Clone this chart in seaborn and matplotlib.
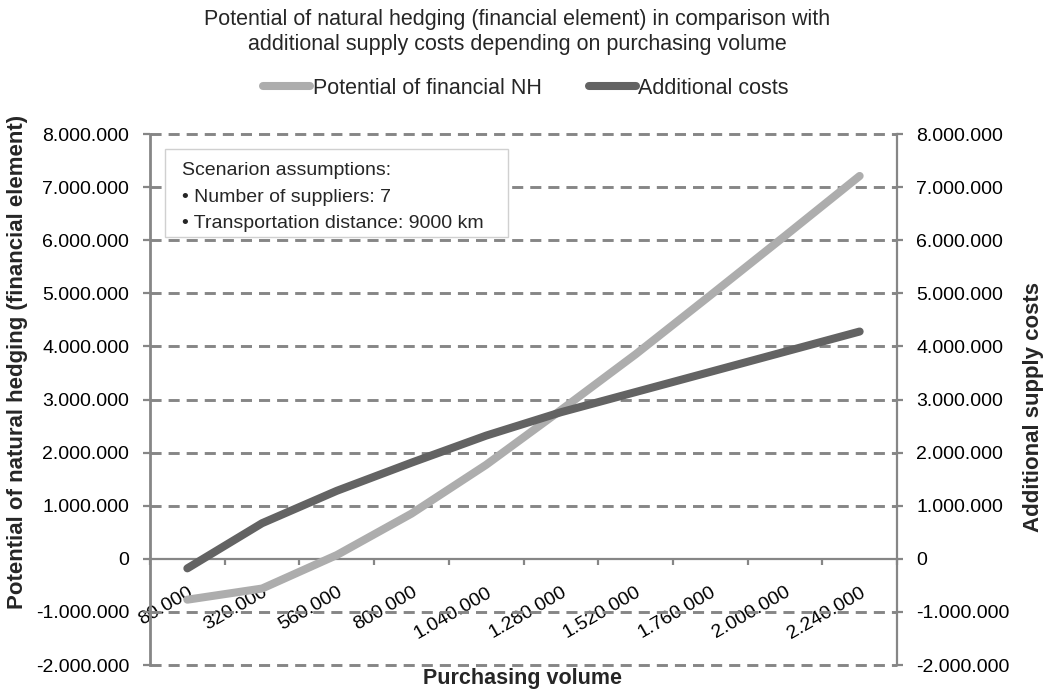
import matplotlib
matplotlib.use("Agg")
import matplotlib.pyplot as plt
from matplotlib.ticker import FuncFormatter, FixedLocator
from matplotlib.patches import Rectangle
import seaborn as sns
import pandas as pd

# data
volumes = ["80.000", "320.000", "560.000", "800.000", "1.040.000", "1.280.000",
           "1.520.000", "1.760.000", "2.000.000", "2.240.000"]
potential_nh = [-770000, -560000, 70000, 850000, 1770000, 2800000,
                3850000, 4960000, 6080000, 7210000]
additional_costs = [-180000, 670000, 1280000, 1810000, 2320000, 2760000,
                    3140000, 3520000, 3900000, 4280000]
series_names = ["Potential of financial NH", "Additional costs"]
y_ticks = [-2000000, -1000000, 0, 1000000, 2000000, 3000000, 4000000,
           5000000, 6000000, 7000000, 8000000]
scenario_lines = ["Scenarion assumptions:",
                  "\u2022 Number of suppliers: 7",
                  "\u2022 Transportation distance: 9000 km"]

frame = pd.DataFrame({
    "volume": volumes * 2,
    "value": potential_nh + additional_costs,
    "series": [series_names[0]] * len(volumes) + [series_names[1]] * len(volumes),
})

sns.set_style("ticks")
plt.rcParams["font.family"] = ["Liberation Sans", "DejaVu Sans"]

light = "#ADADAD"
dark = "#636363"
axis_grey = "#868686"

W, H = 1051, 694
fig = plt.figure(figsize=(W / 100, H / 100), dpi=100)
ax = fig.add_axes([150 / W, 1 - 665 / H, 747 / W, 531 / H])

sns.lineplot(data=frame, x="volume", y="value", hue="series", sort=False,
             palette=[light, dark], linewidth=5.8, solid_capstyle="round",
             ax=ax, zorder=3)
handles, labels = ax.get_legend_handles_labels()
ax.get_legend().remove()

ax.set_xlim(-0.5, len(volumes) - 0.5)
ax.set_ylim(y_ticks[0], y_ticks[-1])

fmt = FuncFormatter(lambda v, p: f"{v:,.0f}".replace(",", "."))

# dashed gridlines (zero is the category axis itself)
for v in y_ticks:
    if v != 0:
        ax.axhline(v, color=axis_grey, lw=2.1, ls=(0, (3.8, 2.4)),
                   clip_on=False, zorder=1)

# spines
ax.spines["top"].set_visible(False)
ax.spines["right"].set_visible(False)
ax.spines["bottom"].set_position(("data", 0))
ax.spines["bottom"].set_color(axis_grey)
ax.spines["bottom"].set_linewidth(1.6)
ax.spines["left"].set_color(axis_grey)
ax.spines["left"].set_linewidth(2.0)

ax.yaxis.set_major_locator(FixedLocator(y_ticks))
ax.yaxis.set_major_formatter(fmt)
ax.tick_params(axis="y", direction="out", length=5, width=1.6, color=axis_grey,
               labelsize=14, labelcolor="black", pad=10)

ax.set_xticks(range(len(volumes)))
ax.set_xticklabels(volumes, rotation=30, ha="right", rotation_mode="anchor")
ax.set_xticks([i - 0.5 for i in range(len(volumes) + 1)], minor=True)
ax.tick_params(axis="x", which="major", length=0, labelsize=14,
               labelcolor="black", pad=18)
ax.tick_params(axis="x", which="minor", direction="out", length=4, width=1.6,
               color=axis_grey)

ax.set_xlabel("Purchasing volume", fontsize=15.5, fontweight="bold")
ax.xaxis.set_label_coords(0.498, -0.026)
ax.xaxis.label.set_va("center")
ax.set_ylabel("Potential of natural hedging (financial element)",
              fontsize=16, fontweight="bold")
ax.yaxis.set_label_coords(-0.177, 0.57)
ax.yaxis.label.set_va("center")

# secondary axis
ax2 = ax.twinx()
ax2.set_ylim(y_ticks[0], y_ticks[-1])
ax2.yaxis.set_major_locator(FixedLocator(y_ticks))
ax2.yaxis.set_major_formatter(fmt)
for s in ["top", "left", "bottom"]:
    ax2.spines[s].set_visible(False)
ax2.spines["right"].set_color(axis_grey)
ax2.spines["right"].set_linewidth(1.6)
ax2.tick_params(axis="y", direction="out", length=4, width=1.6, color=axis_grey,
                labelsize=14, labelcolor="black", pad=10)
ax2.set_ylabel("Additional supply costs", fontsize=16, fontweight="bold",
               rotation=90)
ax2.yaxis.set_label_coords(1.183, 0.486)
ax2.yaxis.label.set_va("center")

# scenario box
box = Rectangle((15 / 747, (665 - 237) / 531), 343 / 747, 88 / 531,
                transform=ax.transAxes, facecolor="white", edgecolor="#D0D0D0",
                lw=1.0, zorder=4)
ax.add_patch(box)
for i, line in enumerate(scenario_lines):
    ax.text(32 / 747, (665 - 175 - 26.5 * i) / 531, line, transform=ax.transAxes,
            fontsize=14, va="baseline", ha="left", zorder=5)

# title and legend
fig.text(517 / W, 1 - 32 / H,
         "Potential of natural hedging (financial element) in comparison with\n"
         "additional supply costs depending on purchasing volume",
         ha="center", va="center", fontsize=15.5, linespacing=1.3)
for h in handles:
    h.set_linewidth(5.8)
    h.set_solid_capstyle("round")
fig.legend(handles, labels, loc="center", bbox_to_anchor=(526 / W, 1 - 88 / H),
           ncol=2, frameon=False, fontsize=15.5, handlelength=2.2,
           handletextpad=0.1, columnspacing=2.2)

fig.savefig("out.png", dpi=100)
